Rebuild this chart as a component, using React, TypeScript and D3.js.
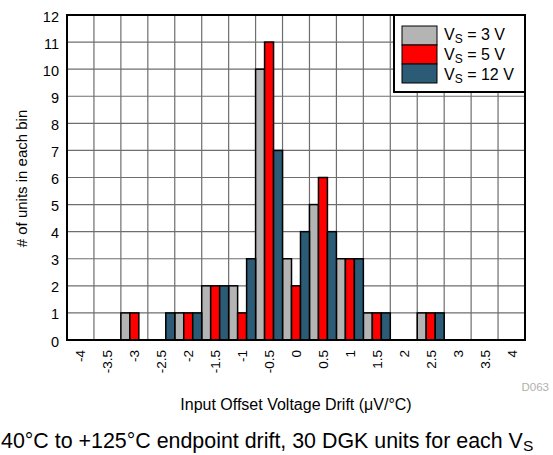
import React from "react";
import * as d3 from "d3";

const categories = ["-4", "-3.5", "-3", "-2.5", "-2", "-1.5", "-1", "-0.5", "0", "0.5", "1", "1.5", "2", "2.5", "3", "3.5", "4"];
const seriesNames = ["3", "5", "12"];
const vs3 = [0, 0, 1, 0, 1, 2, 2, 10, 3, 5, 3, 1, 0, 1, 0, 0, 0];
const vs5 = [0, 0, 1, 0, 1, 2, 1, 11, 2, 6, 3, 1, 0, 1, 0, 0, 0];
const vs12 = [0, 0, 0, 1, 1, 2, 3, 7, 4, 4, 3, 1, 0, 1, 0, 0, 0];
const yTicks = [0, 1, 2, 3, 4, 5, 6, 7, 8, 9, 10, 11, 12];
const colors = ["#b4b4b4", "#ff0000", "#2b5b75"];

const W = 553, H = 455;
const L = 67, R = 525, T = 15, B = 340;
const FONT = "'Liberation Sans', Arial, sans-serif";

export default function App() {
  const series = [vs3, vs5, vs12];
  const x = d3.scaleBand<string>().domain(categories).range([L, R]).padding(0);
  const xi = d3.scaleBand<string>().domain(seriesNames).range([0, x.bandwidth()]).padding(0);
  const y = d3.scaleLinear().domain([0, 12]).range([B, T]);

  const vLines = categories.slice(1).map((c) => x(c)!);

  return (
    <svg width={W} height={H} style={{ position: "absolute", left: 0, top: 0 }} fontFamily={FONT}>
      <rect x={0} y={0} width={W} height={H} fill="#fff" />
      {/* grid */}
      {yTicks.slice(1, -1).map((t) => (
        <line key={"h" + t} x1={L} x2={R} y1={y(t)} y2={y(t)} stroke="#6e6e6e" strokeWidth={1.2} />
      ))}
      {vLines.map((vx, i) => (
        <line key={"v" + i} x1={vx} x2={vx} y1={T} y2={B} stroke="#6e6e6e" strokeWidth={1.2} />
      ))}
      {/* bars */}
      {series.map((vals, si) =>
        vals.map((v, ci) =>
          v > 0 ? (
            <rect
              key={si + "-" + ci}
              x={x(categories[ci])! + xi(seriesNames[si])!}
              y={y(v)}
              width={xi.bandwidth()}
              height={y(0) - y(v)}
              fill={colors[si]}
              stroke="#000"
              strokeWidth={1.5}
            />
          ) : null
        )
      )}
      {/* frame */}
      <rect x={L} y={T} width={R - L} height={B - T} fill="none" stroke="#000" strokeWidth={2} />
      {/* y ticks */}
      {yTicks.map((t) => (
        <text key={"yt" + t} x={59} y={y(t) + 6.5} textAnchor="end" fontSize={14.5}>
          {t}
        </text>
      ))}
      {/* x ticks */}
      {categories.map((c) => {
        const cx = x(c)! + x.bandwidth() / 2;
        return (
          <text
            key={"xt" + c}
            transform={`translate(${cx + 5},350) rotate(-90)`}
            textAnchor="end"
            fontSize={13.5}
          >
            {c}
          </text>
        );
      })}
      {/* axis titles */}
      <text transform={`translate(26.5,178.5) rotate(-90)`} textAnchor="middle" fontSize={15}>
        # of units in each bin
      </text>
      <text x={296} y={410} textAnchor="middle" fontSize={16}>
        Input Offset Voltage Drift (μV/°C)
      </text>
      <text x={549} y={391} textAnchor="end" fontSize={11.5} fill="#b0b0b0">
        D063
      </text>
      {/* legend */}
      <rect x={394} y={T} width={R - 394} height={77} fill="#fff" stroke="#000" strokeWidth={2} />
      {seriesNames.map((s, i) => (
        <g key={"lg" + s}>
          <rect x={402} y={26 + i * 19} width={35} height={19} fill={colors[i]} stroke="#000" strokeWidth={1} />
          <text x={444} y={40 + i * 20} fontSize={16}>
            V<tspan fontSize={12} dy={3}>S</tspan>
            <tspan dy={-3}>{` = ${s} V`}</tspan>
          </text>
        </g>
      ))}
      {/* caption */}
      <text x={1} y={448} fontSize={21.4}>
        40°C to +125°C endpoint drift, 30 DGK units for each V<tspan fontSize={15.5} dy={3}>S</tspan>
      </text>
    </svg>
  );
}
